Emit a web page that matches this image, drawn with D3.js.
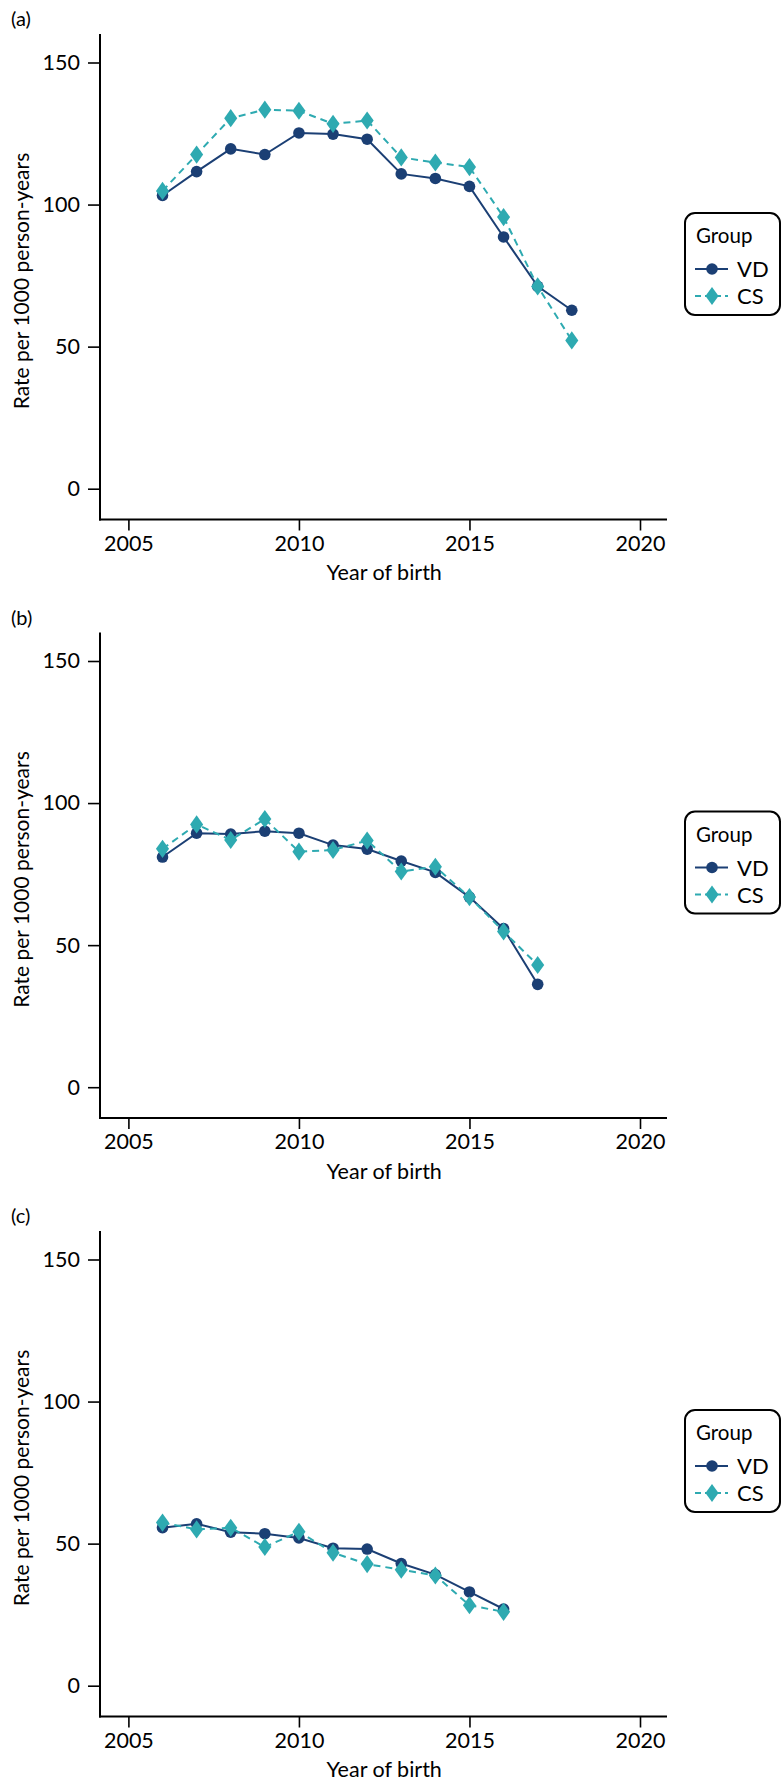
<!DOCTYPE html>
<html>
<head>
<meta charset="utf-8">
<script src="https://cdn.jsdelivr.net/npm/d3@7/dist/d3.min.js"></script>
<style>
  html, body { margin: 0; padding: 0; background: #fff; }
  svg { display: block; font-family: Lato, "Open Sans", sans-serif; }
</style>
</head>
<body>
<svg id="chart" width="782" height="1781"></svg>
<script>
const years = [2006, 2007, 2008, 2009, 2010, 2011, 2012, 2013, 2014, 2015, 2016, 2017, 2018];
const panelLabels = ["(a)", "(b)", "(c)"];
const groups = ["VD", "CS"];
const xTicks = [2005, 2010, 2015, 2020];
const yTicks = [0, 50, 100, 150];

// panel (a)
const vdA = [103.2, 111.6, 119.6, 117.6, 125.2, 124.8, 123.0, 110.8, 109.2, 106.4, 88.6, 71.2, 62.8];
const csA = [104.8, 117.6, 130.4, 133.4, 133.0, 128.4, 129.6, 116.6, 114.8, 113.2, 95.6, 71.2, 52.2];
// panel (b)
const vdB = [81.0, 89.4, 89.1, 90.1, 89.4, 85.2, 83.8, 79.6, 75.6, 66.9, 55.8, 36.2];
const csB = [83.9, 92.5, 87.0, 94.4, 82.9, 83.5, 86.8, 75.9, 77.6, 66.9, 54.8, 43.0];
// panel (c)
const vdC = [55.6, 57.0, 54.0, 53.5, 52.0, 48.4, 48.1, 43.0, 39.1, 33.0, 27.0];
const csC = [57.4, 55.0, 55.6, 48.8, 54.2, 46.8, 42.8, 40.8, 38.8, 28.3, 26.0];

const panels = [
  { label: panelLabels[0], vd: vdA, cs: csA },
  { label: panelLabels[1], vd: vdB, cs: csB },
  { label: panelLabels[2], vd: vdC, cs: csC }
];

const colVD = "#1b3f74";
const colCS = "#2eaab1";
const svg = d3.select("#chart");

const x = d3.scaleLinear().domain([2005, 2020]).range([128.4, 640]);
const xLeft = 100, xRight = 667;

panels.forEach((p, i) => {
  const off = i * 598.5;
  const g = svg.append("g").attr("transform", `translate(0,${off})`);
  const y = d3.scaleLinear().domain([0, 150]).range([488.7, 62.5]);
  const yTop = 34, yBottom = 519.5;

  g.append("text").attr("x", 11).attr("y", 26).attr("font-size", 20).attr("fill", "#000").text(p.label);

  // y axis
  g.append("line").attr("x1", xLeft).attr("x2", xLeft).attr("y1", yTop).attr("y2", yBottom + 1)
    .attr("stroke", "#000").attr("stroke-width", 2);
  const yAxis = d3.axisLeft(y).tickValues(yTicks).tickSize(12).tickPadding(8);
  const ya = g.append("g").attr("transform", `translate(${xLeft},0)`).call(yAxis);
  ya.select(".domain").remove();
  ya.selectAll(".tick line").attr("stroke", "#000").attr("stroke-width", 1.6);
  ya.selectAll(".tick text").attr("font-size", 21.5).attr("fill", "#000").attr("font-family", "Lato");

  // x axis
  g.append("line").attr("x1", xLeft - 1).attr("x2", xRight).attr("y1", yBottom).attr("y2", yBottom)
    .attr("stroke", "#000").attr("stroke-width", 2);
  const xAxis = d3.axisBottom(x).tickValues(xTicks).tickFormat(d3.format("d")).tickSize(11).tickPadding(5);
  const xa = g.append("g").attr("transform", `translate(0,${yBottom})`).call(xAxis);
  xa.select(".domain").remove();
  xa.selectAll(".tick line").attr("stroke", "#000").attr("stroke-width", 1.6);
  xa.selectAll(".tick text").attr("font-size", 21.5).attr("fill", "#000").attr("font-family", "Lato");

  g.append("text").attr("x", x(2012.5)).attr("y", 580).attr("text-anchor", "middle")
    .attr("font-size", 21.5).attr("fill", "#000").text("Year of birth");
  g.append("text").attr("transform", `translate(29,281) rotate(-90)`)
    .attr("text-anchor", "middle").attr("font-size", 21).attr("fill", "#000")
    .text("Rate per 1000 person-years");

  const line = d3.line().x((d, k) => x(years[k])).y(d => y(d));

  // VD series
  g.append("path").datum(p.vd).attr("d", line).attr("fill", "none")
    .attr("stroke", colVD).attr("stroke-width", 2);
  g.selectAll(".vd").data(p.vd).join("circle").attr("class", "vd")
    .attr("cx", (d, k) => x(years[k])).attr("cy", d => y(d)).attr("r", 5.8).attr("fill", colVD);

  // CS series
  g.append("path").datum(p.cs).attr("d", line).attr("fill", "none")
    .attr("stroke", colCS).attr("stroke-width", 2).attr("stroke-dasharray", "7,5");
  const diamond = d3.symbol().type(d3.symbolDiamond).size(95);
  g.selectAll(".cs").data(p.cs).join("path").attr("class", "cs")
    .attr("d", diamond)
    .attr("transform", (d, k) => `translate(${x(years[k])},${y(d)}) scale(1.25,1) `)
    .attr("fill", colCS);

  // legend
  const lg = g.append("g").attr("transform", "translate(685,213)");
  lg.append("rect").attr("x", 0).attr("y", 0).attr("width", 95).attr("height", 102)
    .attr("rx", 10).attr("fill", "#fff").attr("stroke", "#000").attr("stroke-width", 2);
  lg.append("text").attr("x", 11).attr("y", 30).attr("font-size", 20.5).attr("fill", "#000").text("Group");
  const rows = [
    { name: groups[0], col: colVD, dash: null, sym: "circle" },
    { name: groups[1], col: colCS, dash: "6,4", sym: "diamond" }
  ];
  rows.forEach((r, j) => {
    const cy = 56 + j * 27;
    lg.append("line").attr("x1", 10).attr("x2", 43).attr("y1", cy).attr("y2", cy)
      .attr("stroke", r.col).attr("stroke-width", 2).attr("stroke-dasharray", r.dash);
    if (r.sym === "circle") {
      lg.append("circle").attr("cx", 27).attr("cy", cy).attr("r", 5.8).attr("fill", r.col);
    } else {
      lg.append("path").attr("d", diamond).attr("transform", `translate(27,${cy}) scale(1.25,1)`).attr("fill", r.col);
    }
    lg.append("text").attr("x", 52).attr("y", cy + 8).attr("font-size", 22).attr("fill", "#000").text(r.name);
  });
});
</script>
</body>
</html>
